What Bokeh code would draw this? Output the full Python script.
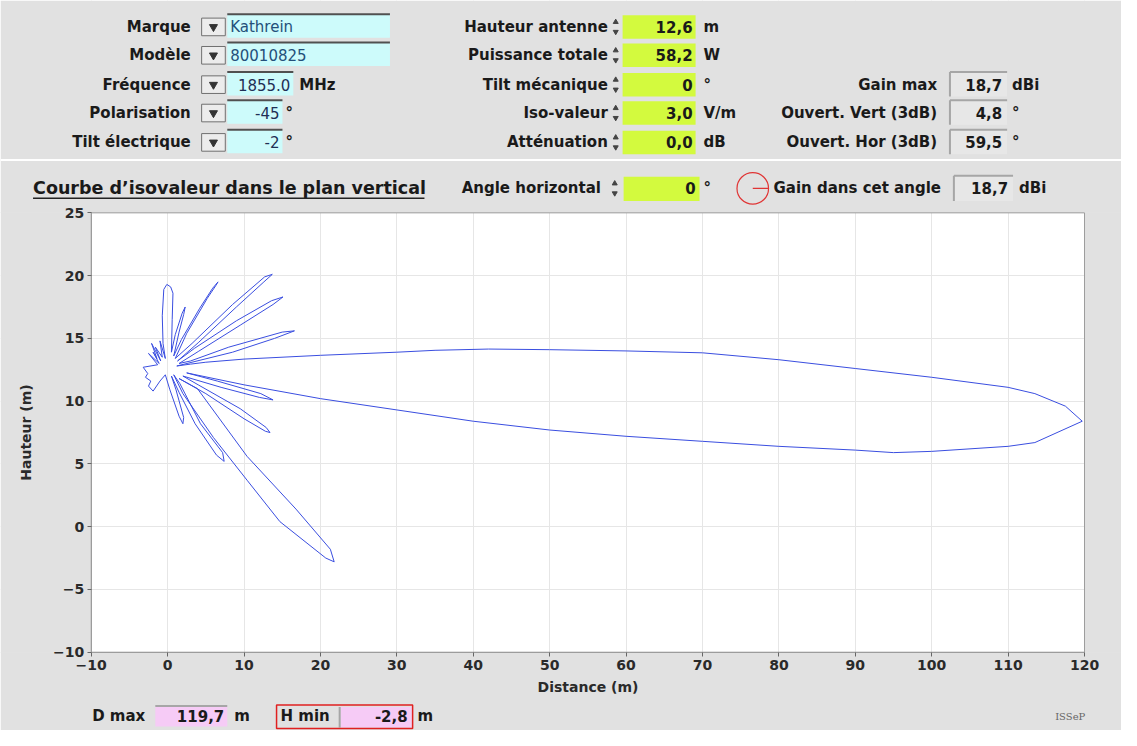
from bokeh.plotting import figure
from bokeh.models import Range1d, FixedTicker
from bokeh.embed import file_html
from bokeh.resources import INLINE
from bokeh.core.properties import value

# ---------------- data (distance m, height m) ----------------
main_upper_d = [119.7, 117.5, 113.5, 110, 100, 90, 80, 70, 60, 50, 42, 35, 30, 20, 10, 5, 3]
main_upper_h = [8.4, 9.6, 10.6, 11.1, 11.9, 12.6, 13.3, 13.85, 14.0, 14.1, 14.15, 14.05, 13.9, 13.65, 13.35, 13.1, 12.95]

upper_lobes_d = [1.2, 8.5, 14.0, 16.6, 15.0, 8.0, 3.0,
                 1.5, 4.0, 9.5, 13.8, 15.1, 13.6, 9.0, 3.5,
                 1.3, 4.0, 9.0, 12.6, 13.7, 12.7, 8.5, 3.2,
                 1.0, 2.5, 5.2, 6.3, 6.6, 5.9, 4.2, 1.8,
                 0.8, 1.5, 2.1, 2.3, 1.9, 1.0,
                 0.5, 0.6, 0.7, 0.4, -0.1, -0.5, -0.7, -0.6, -0.3]
upper_lobes_h = [12.8, 13.9, 15.0, 15.6, 15.5, 14.3, 13.2,
                 13.0, 13.95, 16.05, 17.7, 18.3, 18.0, 16.4, 14.2,
                 13.2, 14.65, 17.5, 19.5, 20.1, 19.9, 17.7, 14.6,
                 13.4, 15.4, 18.2, 19.2, 19.5, 19.0, 17.4, 14.9,
                 13.6, 15.5, 16.9, 17.5, 17.0, 15.3,
                 13.9, 16.5, 18.6, 19.1, 19.3, 18.9, 16.8, 14.6, 13.4]

back_lobes_d = [-1.0, -0.7, -1.6, -0.9, -2.1, -1.4, -1.9, -1.1, -2.5, -1.3, -3.2,
                -2.6, -2.9, -2.2, -2.5, -1.9, -1.0, -0.3]
back_lobes_h = [14.8, 13.5, 14.3, 13.2, 14.6, 13.4, 13.9, 13.0, 13.8, 12.9, 12.7,
                12.2, 11.9, 11.6, 11.2, 10.8, 11.6, 12.1]

lower_lobes_d = [0.3, 1.5, 2.0, 2.1, 1.1,
                 0.5, 1.5, 3.6, 6.4, 7.4, 7.2, 4.3, 1.6,
                 0.8, 2.0, 6.0, 10.4, 14.7, 20.7, 21.8, 21.3, 16.8, 10.4, 3.9,
                 1.5, 5.0, 10.0, 12.8, 13.4, 12.9, 9.5, 4.0,
                 2.0, 7.0, 12.0, 13.8, 12.2, 6.5, 2.5]
lower_lobes_h = [10.9, 8.8, 8.2, 8.7, 10.9,
                 12.0, 10.7, 8.2, 5.7, 5.2, 5.9, 8.2, 11.4,
                 12.1, 10.6, 7.1, 3.7, 0.4, -2.5, -2.8, -1.8, 1.4, 5.6, 11.0,
                 11.8, 10.6, 8.6, 7.6, 7.5, 7.9, 9.4, 11.3,
                 12.0, 11.1, 10.3, 10.1, 10.6, 11.6, 12.25]

main_lower_d = [10, 20, 30, 40, 50, 60, 70, 80, 90, 95, 100, 110, 113.5, 119.7]
main_lower_h = [11.3, 10.2, 9.3, 8.4, 7.7, 7.2, 6.8, 6.4, 6.1, 5.9, 6.0, 6.4, 6.7, 8.4]

x_ticks = [-10, 0, 10, 20, 30, 40, 50, 60, 70, 80, 90, 100, 110, 120]
y_ticks = [-10, -5, 0, 5, 10, 15, 20, 25]

left_labels = ["Marque", "Modèle", "Fréquence", "Polarisation", "Tilt électrique"]
left_values = ["Kathrein", "80010825", "1855.0", "-45", "-2"]
left_units = ["", "", "MHz", "°", "°"]
mid_labels = ["Hauteur antenne", "Puissance totale", "Tilt mécanique", "Iso-valeur", "Atténuation"]
mid_values = ["12,6", "58,2", "0", "3,0", "0,0"]
mid_units = ["m", "W", "°", "V/m", "dB"]
right_labels = ["Gain max", "Ouvert. Vert (3dB)", "Ouvert. Hor (3dB)"]
right_values = ["18,7", "4,8", "59,5"]
right_units = ["dBi", "°", "°"]

# ---------------- layout / styles ----------------
W, H = 1121, 730            # canvas size
RW, RH = 1137, 746          # reference coordinate system for the panel
FX0, FX1 = 92, 1099.5       # plot frame in reference px
FY0, FY1 = 217, 666
XMIN, XMAX, YMIN, YMAX = -10, 120, -10, 25
kx = (XMAX - XMIN) / (FX1 - FX0)
ky = (YMAX - YMIN) / (FY1 - FY0)

BG = "#e1e1e1"
FONT = "DejaVu Sans"
CYAN = "#cdfbfb"
LIME = "#d3fa3e"
PINK = "#f6cbf6"
GRAYBOX = "#e7e7e7"
TXT = "#1a1a1a"

p = figure(width=W, height=H,
           x_range=Range1d(XMIN - FX0 * kx, XMAX + (RW - FX1) * kx),
           y_range=Range1d(YMIN - (RH - FY1) * ky, YMAX + FY0 * ky),
           output_backend="svg", toolbar_location=None, min_border=0)
p.extra_x_ranges = {"px": Range1d(0, RW)}
p.extra_y_ranges = {"py": Range1d(RH, 0)}
p.background_fill_color = "white"
p.border_fill_color = BG
p.outline_line_color = None

U = dict(x_range_name="px", y_range_name="py")


def txt(x, y, t, align="left", size="15px", bold=True, color=TXT, font=FONT):
    p.text(x=[x], y=[y], text=[t], text_align=align, text_baseline="middle",
           text_font=value(font), text_font_size=size,
           text_font_style="bold" if bold else "normal", text_color=color, **U)


def box(l, r, t, b, fill, line=None, lw=1):
    p.quad(left=[l], right=[r], top=[t], bottom=[b], fill_color=fill,
           line_color=line, line_width=lw, **U)


def seg(x0, y0, x1, y1, color, lw=1):
    p.segment(x0=[x0], y0=[y0], x1=[x1], y1=[y1], line_color=color, line_width=lw, **U)


def spinner(x, y):
    p.scatter(x=[x], y=[y - 5], marker="triangle", size=5, color="#444444", **U)
    p.scatter(x=[x], y=[y + 5], marker="inverted_triangle", size=5, color="#444444", **U)


# grey window areas around the plot frame
box(0, RW, 0, FY0, BG)
box(0, RW, FY1, RH, BG)
box(0, FX0, FY0, FY1, BG)
box(FX1, RW, FY0, FY1, BG)
p.quad(left=[FX0], right=[FX1], top=[FY0], bottom=[FY1], fill_color=None,
       line_color="#9c9c9c", line_width=1, **U)

# ---------------- top panel ----------------
R = [27, 56, 86, 115, 145]
left_field_right = [395, 395, 297, 286, 286]
for i in range(5):
    y = R[i]
    txt(193, y, left_labels[i], "right")
    box(204, 228, y - 9, y + 9, "#ececec", "#707070")
    p.scatter(x=[216], y=[y], marker="inverted_triangle", size=8, color="#333333", **U)
    fr = left_field_right[i]
    box(230, fr, y - 13, y + 11, CYAN)
    seg(230, y - 13, fr, y - 13, "#505050", 2)
    if i < 2:
        txt(233, y, left_values[i], "left", bold=False, color="#24507a")
    else:
        txt(fr - 3, y, left_values[i], "right", bold=False, color="#1f2f55")
    if left_units[i]:
        txt(303 if i == 2 else 289, y, left_units[i], "left")

    txt(616, y, mid_labels[i], "right")
    spinner(624, y)
    box(631, 705, y - 12, y + 12, LIME)
    txt(702, y, mid_values[i], "right")
    txt(713, y, mid_units[i], "left")

for j in range(3):
    y = R[j + 2]
    txt(950, y, right_labels[j], "right")
    box(963, 1021, y - 13, y + 12, GRAYBOX)
    seg(963, y - 13, 1021, y - 13, "#a6a6a6", 2)
    seg(963, y - 13, 963, y + 12, "#a6a6a6", 2)
    txt(1016, y, right_values[j], "right")
    txt(1026, y, right_units[j], "left")

seg(0, 163, RW, 163, "white", 2)

HY = 192
txt(33, HY, "Courbe d\u2019isovaleur dans le plan vertical", "left", size="17.5px")
seg(33, HY + 10, 430, HY + 10, "#222222", 1.5)
txt(609, HY, "Angle horizontal", "right")
spinner(623, HY)
box(632, 709, HY - 12, HY + 13, LIME)
txt(705, HY, "0", "right")
txt(713, HY, "°", "left")
p.circle(x=[763], y=[HY], radius=16, fill_color=None, line_color="#e03434",
         line_width=1.2, **U)
seg(763, HY, 779, HY, "#e03434", 1.2)
txt(784, HY, "Gain dans cet angle", "left")
box(967, 1027, HY - 13, HY + 13, GRAYBOX)
seg(967, HY - 13, 1027, HY - 13, "#a6a6a6", 2)
seg(967, HY - 13, 967, HY + 13, "#a6a6a6", 2)
txt(1022, HY, "18,7", "right")
txt(1033, HY, "dBi", "left")

# ---------------- footer ----------------
FY = 731
txt(93, FY, "D max", "left")
box(157, 230, FY - 10, FY + 11, PINK)
seg(157, FY - 10, 230, FY - 10, "#a6a6a6", 2)
txt(227, FY, "119,7", "right")
txt(237, FY, "m", "left")
box(345, 417, FY - 9, FY + 12, PINK)
seg(344, FY - 9, 344, FY + 12, "#a6a6a6", 2)
p.quad(left=[280], right=[418], top=[FY - 11], bottom=[FY + 13], fill_color=None,
       line_color="#e02020", line_width=1.5, **U)
txt(284, FY, "H min", "left")
txt(413, FY, "-2,8", "right")
txt(423, FY, "m", "left")
txt(1085, FY + 1, "ISSeP", "center", size="10px", bold=False, color="#666666",
    font="DejaVu Serif")

# ---------------- chart axes / grid ----------------
p.xaxis.fixed_location = YMIN
p.yaxis.fixed_location = XMIN
p.xaxis.bounds = (XMIN, XMAX)
p.yaxis.bounds = (YMIN, YMAX)
p.xaxis.ticker = FixedTicker(ticks=x_ticks, minor_ticks=[])
p.yaxis.ticker = FixedTicker(ticks=y_ticks, minor_ticks=[])
p.xgrid.ticker = FixedTicker(ticks=x_ticks, minor_ticks=[])
p.ygrid.ticker = FixedTicker(ticks=y_ticks, minor_ticks=[])
p.grid.grid_line_color = "#e6e6e6"
p.xaxis.axis_label = "Distance (m)"
p.yaxis.axis_label = "Hauteur (m)"
for ax in p.axis:
    ax.axis_line_color = "#9c9c9c"
    ax.major_tick_line_color = "#666666"
    ax.major_tick_in = 0
    ax.major_tick_out = 4
    ax.minor_tick_line_color = None
    ax.major_label_text_font = FONT
    ax.major_label_text_font_style = "bold"
    ax.major_label_text_font_size = "14px"
    ax.major_label_text_color = "#2a2a2a"
    ax.axis_label_text_font = FONT
    ax.axis_label_text_font_style = "bold"
    ax.axis_label_text_font_size = "14px"
    ax.axis_label_text_color = "#2a2a2a"
p.xaxis.major_label_standoff = 4
p.xaxis.axis_label_standoff = 5
p.yaxis.major_label_standoff = 3
p.yaxis.axis_label_standoff = 16

# ---------------- iso-value curve ----------------
curve_d = main_upper_d + upper_lobes_d + back_lobes_d + lower_lobes_d + main_lower_d
curve_h = main_upper_h + upper_lobes_h + back_lobes_h + lower_lobes_h + main_lower_h
p.line(x=curve_d, y=curve_h, line_color="#3a4ee0", line_width=1.0)

open("out.html", "w").write(file_html(p, INLINE))
